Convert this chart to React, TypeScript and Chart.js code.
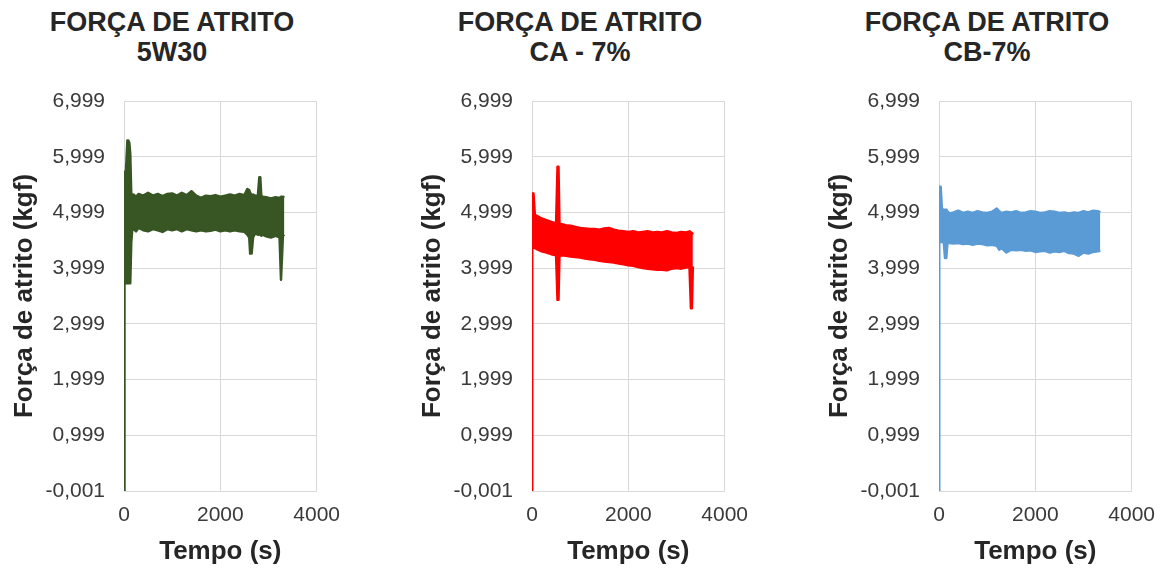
import React, { useEffect, useRef } from 'react';
import { Chart, registerables } from 'chart.js';

Chart.register(...registerables);

// ---- tick labels ----
const yTicks = [-0.001, 0.999, 1.999, 2.999, 3.999, 4.999, 5.999, 6.999];
const xTicks = [0, 2000, 4000];

// ---- Chart 1: 5W30 (upper / lower envelope of the friction signal) ----
const c1Time = [0, 5, 15, 40, 70, 90, 110, 130, 150, 170, 200, 250, 300, 400, 500, 600, 700, 800, 900, 1000, 1100, 1200, 1300, 1400, 1500, 1600, 1700, 1800, 1900, 2000, 2100, 2200, 2300, 2400, 2500, 2560, 2600, 2620, 2650, 2680, 2720, 2780, 2810, 2830, 2850, 2880, 2950, 3050, 3150, 3230, 3260, 3280, 3300, 3330];
const c1Upper = [5.73, 5.73, 5.73, 5.73, 6.29, 6.29, 6.25, 6.05, 5.35, 5.3, 5.32, 5.28, 5.33, 5.3, 5.35, 5.3, 5.33, 5.29, 5.33, 5.34, 5.3, 5.35, 5.31, 5.38, 5.3, 5.26, 5.3, 5.29, 5.31, 5.28, 5.3, 5.32, 5.3, 5.33, 5.31, 5.42, 5.4, 5.35, 5.3, 5.32, 5.3, 5.3, 5.63, 5.63, 5.3, 5.28, 5.27, 5.25, 5.27, 5.26, 5.28, 5.27, 5.28, 5.27];
const c1Lower = [-0.001, 3.73, 3.73, 3.73, 3.73, 3.73, 3.73, 3.73, 4.45, 4.68, 4.7, 4.66, 4.72, 4.68, 4.66, 4.7, 4.68, 4.65, 4.7, 4.68, 4.7, 4.66, 4.7, 4.68, 4.66, 4.68, 4.66, 4.67, 4.69, 4.66, 4.68, 4.66, 4.68, 4.66, 4.65, 4.6, 4.55, 4.26, 4.26, 4.55, 4.62, 4.6, 4.6, 4.62, 4.58, 4.6, 4.57, 4.55, 4.58, 4.55, 3.79, 3.79, 4.58, 4.6];

// ---- Chart 2: CA - 7% ----
const c2Time = [0, 5, 30, 60, 100, 200, 300, 400, 500, 530, 550, 570, 600, 700, 800, 900, 1000, 1100, 1200, 1300, 1400, 1500, 1600, 1700, 1800, 1900, 2000, 2100, 2200, 2300, 2400, 2500, 2600, 2700, 2800, 2900, 3000, 3100, 3200, 3270, 3300, 3320, 3340];
const c2Upper = [5.34, 5.34, 5.34, 4.95, 4.94, 4.89, 4.86, 4.83, 4.8, 5.82, 5.82, 4.8, 4.79, 4.77, 4.76, 4.74, 4.72, 4.71, 4.7, 4.7, 4.69, 4.71, 4.72, 4.69, 4.67, 4.66, 4.65, 4.66, 4.64, 4.65, 4.66, 4.64, 4.65, 4.64, 4.66, 4.64, 4.63, 4.65, 4.64, 4.66, 4.64, 4.63, 4.6];
const c2Lower = [-0.001, 4.36, 4.36, 4.36, 4.34, 4.3, 4.28, 4.25, 4.23, 3.43, 3.43, 4.22, 4.23, 4.22, 4.21, 4.2, 4.19, 4.17, 4.16, 4.15, 4.13, 4.12, 4.11, 4.1, 4.08, 4.07, 4.05, 4.04, 4.02, 4.0, 3.99, 3.98, 3.97, 3.97, 3.96, 3.99, 4.0, 3.99, 4.01, 4.02, 3.28, 3.28, 4.03];

// ---- Chart 3: CB-7% ----
const c3Time = [0, 5, 35, 60, 100, 125, 150, 175, 220, 300, 400, 500, 600, 700, 800, 900, 1000, 1100, 1200, 1250, 1300, 1400, 1500, 1600, 1700, 1800, 1900, 2000, 2100, 2200, 2300, 2400, 2500, 2600, 2700, 2800, 2900, 3000, 3100, 3200, 3300, 3350];
const c3Upper = [5.46, 5.46, 5.46, 5.06, 5.05, 5.04, 5.05, 5.02, 4.98, 5.0, 5.03, 4.99, 5.01, 4.99, 5.02, 5.0, 4.99, 5.01, 5.07, 5.02, 4.99, 5.01, 5.0, 5.02, 4.99, 5.0, 5.02, 5.01, 4.99, 5.0, 5.02, 5.01, 4.99, 5.0, 4.98, 5.0, 4.99, 5.02, 5.0, 5.03, 5.02, 5.0];
const c3Lower = [-0.001, 4.47, 4.47, 4.47, 4.46, 4.18, 4.18, 4.45, 4.45, 4.44, 4.45, 4.43, 4.44, 4.42, 4.44, 4.43, 4.41, 4.42, 4.4, 4.33, 4.36, 4.28, 4.33, 4.32, 4.33, 4.31, 4.32, 4.29, 4.3, 4.31, 4.28, 4.3, 4.29, 4.31, 4.27, 4.26, 4.22, 4.28, 4.26, 4.29, 4.3, 4.31];

const FONT = '"Liberation Sans", Arial, sans-serif';
const TITLE_W = 344;
const CANVAS_W = 352;
const PANEL_H = 572;

type PanelProps = {
  left: number;
  title: string[];
  color: string;
  time: number[];
  upper: number[];
  lower: number[];
};

function Panel({ left, title, color, time, upper, lower }: PanelProps) {
  const ref = useRef<HTMLCanvasElement | null>(null);

  useEffect(() => {
    if (!ref.current) return;
    const chart = new Chart(ref.current, {
      type: 'line',
      data: {
        datasets: [
          {
            data: time.map((t, i) => ({ x: t, y: upper[i] })),
            borderColor: color,
            backgroundColor: color,
            borderWidth: 2.5,
            pointRadius: 0,
            tension: 0,
            fill: false,
            borderJoinStyle: 'round',
          },
          {
            data: time.map((t, i) => ({ x: t, y: lower[i] })),
            borderColor: color,
            backgroundColor: color,
            borderWidth: 2.5,
            pointRadius: 0,
            tension: 0,
            fill: '-1',
            borderJoinStyle: 'round',
          },
        ],
      },
      options: {
        responsive: false,
        animation: false,
        layout: { padding: { top: 101, right: 0, left: 0, bottom: 0 } },
        plugins: {
          legend: { display: false },
          tooltip: { enabled: false },
          title: { display: false },
        },
        scales: {
          x: {
            type: 'linear',
            min: 0,
            max: 4000,
            afterFit: (s: any) => {
              s.height = 81;
            },
            afterBuildTicks: (s: any) => {
              s.ticks = xTicks.map((v) => ({ value: v }));
            },
            ticks: {
              callback: (v: any) => String(v),
              color: '#3a3a3a',
              font: { family: FONT, size: 21 },
              padding: 12,
              maxRotation: 0,
            },
            grid: { color: '#d9d9d9', drawTicks: false },
            border: { color: '#d9d9d9' },
            title: {
              display: true,
              text: 'Tempo (s)',
              color: '#262626',
              font: { family: FONT, size: 26, weight: 'bold' },
              padding: { top: 0, bottom: 5 },
            },
          },
          y: {
            type: 'linear',
            min: -0.001,
            max: 6.999,
            afterFit: (s: any) => {
              s.width = 124;
            },
            afterBuildTicks: (s: any) => {
              s.ticks = yTicks.map((v) => ({ value: v }));
            },
            ticks: {
              callback: (v: any) => Number(v).toFixed(3).replace('.', ','),
              color: '#3a3a3a',
              font: { family: FONT, size: 21 },
              padding: 19,
            },
            grid: { color: '#d9d9d9', drawTicks: false },
            border: { color: '#d9d9d9' },
            title: {
              display: true,
              text: 'Força de atrito (kgf)',
              color: '#262626',
              font: { family: FONT, size: 26, weight: 'bold' },
              padding: { top: 9, bottom: 0 },
            },
          },
        },
      },
    } as any);
    return () => chart.destroy();
  }, [color, time, upper, lower]);

  return (
    <div style={{ position: 'absolute', left, top: 0, width: CANVAS_W, height: PANEL_H }}>
      <div
        style={{
          position: 'absolute',
          left: 0,
          top: 7,
          width: TITLE_W,
          textAlign: 'center',
          fontFamily: FONT,
          fontWeight: 'bold',
          fontSize: 27,
          lineHeight: '30px',
          color: '#262626',
          whiteSpace: 'nowrap',
        }}
      >
        {title.map((t, i) => (
          <div key={i}>{t}</div>
        ))}
      </div>
      <canvas
        ref={ref}
        width={CANVAS_W}
        height={PANEL_H}
        style={{ position: 'absolute', left: 0, top: 0, width: CANVAS_W, height: PANEL_H }}
      />
    </div>
  );
}

export default function App() {
  return (
    <div
      style={{
        position: 'fixed',
        left: 0,
        top: 0,
        width: 1165,
        height: 572,
        background: '#ffffff',
        overflow: 'hidden',
      }}
    >
      <Panel left={0} title={['FORÇA DE ATRITO', '5W30']} color="#375623" time={c1Time} upper={c1Upper} lower={c1Lower} />
      <Panel left={408} title={['FORÇA DE ATRITO', 'CA - 7%']} color="#ff0000" time={c2Time} upper={c2Upper} lower={c2Lower} />
      <Panel left={815} title={['FORÇA DE ATRITO', 'CB-7%']} color="#5b9bd5" time={c3Time} upper={c3Upper} lower={c3Lower} />
    </div>
  );
}
